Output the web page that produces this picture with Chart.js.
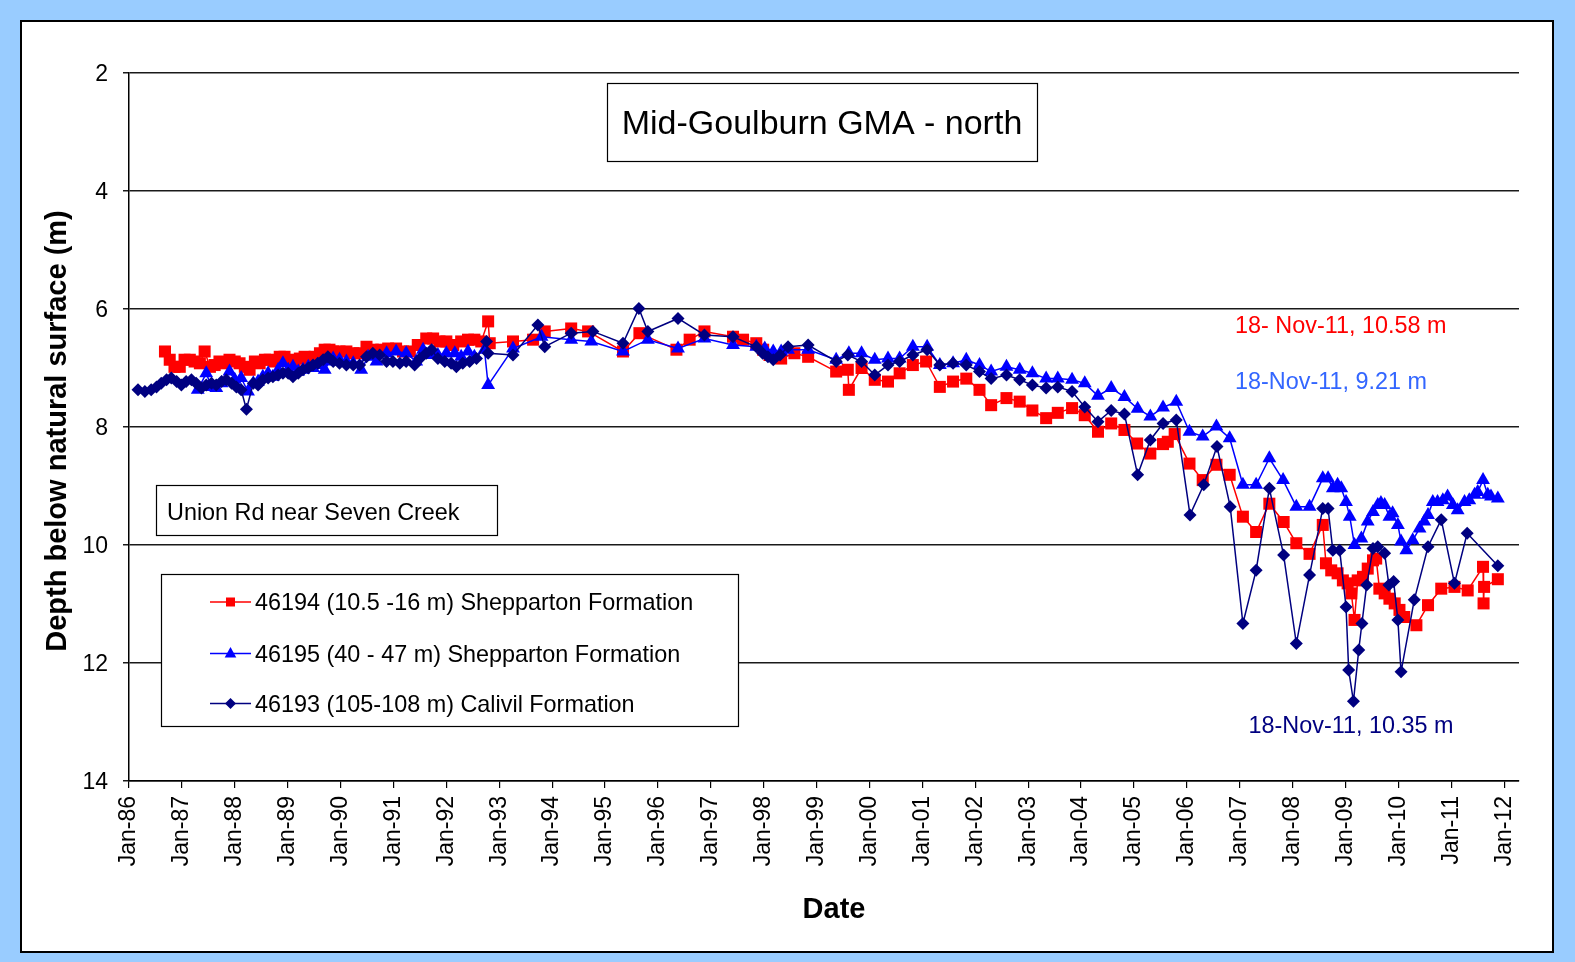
<!DOCTYPE html>
<html>
<head>
<meta charset="utf-8">
<title>Mid-Goulburn GMA - north</title>
<script src="https://cdn.jsdelivr.net/npm/chart.js@4.4.1/dist/chart.umd.min.js"></script>
<style>
    html, body { margin: 0; padding: 0; background: #99ccff; }
    #wrap { position: absolute; left: 0; top: 0; width: 1575px; height: 962px; }
</style>
</head>
<body>
<div id="wrap"><canvas id="hydroChart" width="1575" height="962"></canvas></div>
<script>
// dates are decimal years, depths are metres below natural surface
const bore46194Dates = [
    1986.68, 1986.77, 1986.86, 1986.96, 1987.05, 1987.15, 1987.24, 1987.34, 1987.43, 1987.53, 1987.62, 1987.71,
    1987.81, 1987.90, 1988.00, 1988.09, 1988.19, 1988.28, 1988.38, 1988.47, 1988.57, 1988.66, 1988.75, 1988.85,
    1988.94, 1989.04, 1989.13, 1989.23, 1989.32, 1989.42, 1989.51, 1989.61, 1989.70, 1989.79,
    1989.86, 1989.98, 1990.11, 1990.24, 1990.36, 1990.49, 1990.61, 1990.77, 1990.90, 1991.05, 1991.18, 1991.31,
    1991.46, 1991.62, 1991.75, 1991.87, 1992.00, 1992.13, 1992.28, 1992.41, 1992.53, 1992.66, 1992.79, 1992.82,
    1993.26, 1993.64, 1993.86, 1994.36, 1994.68, 1995.34, 1995.65, 1996.35, 1996.60, 1996.88, 1997.42, 1997.61,
    1997.86, 1997.99, 1998.11, 1998.33, 1998.58, 1998.84, 1999.37, 1999.59, 1999.61, 1999.85, 2000.10,
    2000.35, 2000.57, 2000.82, 2001.07, 2001.33, 2001.58, 2001.83, 2002.08, 2002.30, 2002.59, 2002.84, 2003.08,
    2003.34, 2003.56, 2003.83, 2004.07, 2004.32, 2004.57, 2004.82, 2005.06, 2005.31, 2005.55, 2005.64, 2005.77,
    2006.05, 2006.30, 2006.56, 2006.81, 2007.06, 2007.31, 2007.56, 2007.83, 2008.07, 2008.32, 2008.57, 2008.63,
    2008.73, 2008.85, 2008.95, 2009.04, 2009.11, 2009.17, 2009.23, 2009.33, 2009.42, 2009.52, 2009.58, 2009.64,
    2009.74, 2009.83, 2009.93, 2010.02, 2010.11, 2010.34, 2010.56, 2010.81, 2011.06, 2011.31, 2011.60, 2011.61,
    2011.62, 2011.88
];
const bore46194Depth = [
    6.72, 6.86, 6.98, 6.98, 6.86, 6.86, 6.89, 6.92, 6.72, 6.98, 6.95, 6.89,
    6.92, 6.86, 6.89, 6.92, 6.98, 7.03, 6.89, 6.92, 6.86, 6.86, 6.89, 6.81,
    6.81, 6.86, 6.92, 6.84, 6.81, 6.86, 6.81, 6.75, 6.69, 6.69,
    6.72, 6.72, 6.72, 6.75, 6.75, 6.64, 6.69, 6.69, 6.67, 6.67, 6.72, 6.72,
    6.61, 6.50, 6.50, 6.55, 6.55, 6.61, 6.55, 6.52, 6.52, 6.55, 6.21, 6.58,
    6.55, 6.52, 6.38, 6.33, 6.38, 6.72, 6.41, 6.69, 6.52, 6.38, 6.47, 6.52,
    6.58, 6.69, 6.78, 6.84, 6.75, 6.81, 7.06, 7.03, 7.37, 7.00, 7.20,
    7.23, 7.09, 6.95, 6.89, 7.32, 7.23, 7.18, 7.37, 7.63, 7.51, 7.57, 7.72,
    7.85, 7.76, 7.68, 7.80, 8.08, 7.94, 8.05, 8.28, 8.45, 8.29, 8.25, 8.12,
    8.62, 8.90, 8.64, 8.81, 9.52, 9.78, 9.30, 9.61, 9.97, 10.15, 9.66, 10.31,
    10.43, 10.48, 10.60, 10.65, 10.82, 11.27, 10.60, 10.54, 10.40, 10.26, 10.23, 10.74,
    10.82, 10.91, 10.99, 11.10, 11.22, 11.36, 11.02, 10.74, 10.71, 10.77, 10.37, 10.99,
    10.71, 10.58
];

const bore46195Dates = [
    1987.30, 1987.46, 1987.56, 1987.65, 1987.75, 1987.90, 1988.00, 1988.12, 1988.25, 1988.35, 1988.44, 1988.53,
    1988.63, 1988.72, 1988.82, 1988.91, 1989.01, 1989.10, 1989.20, 1989.29, 1989.39, 1989.48, 1989.57, 1989.70,
    1989.79,
    1989.86, 1989.98, 1990.11, 1990.24, 1990.39, 1990.52, 1990.68, 1990.87, 1991.05, 1991.24, 1991.43, 1991.56,
    1991.72, 1991.84, 1992.00, 1992.16, 1992.28, 1992.41, 1992.53, 1992.72, 1992.79,
    1993.26, 1993.80, 1994.36, 1994.74, 1995.34, 1995.81, 1996.38, 1996.88, 1997.42, 1997.86, 1998.02, 1998.18,
    1998.33, 1998.46, 1998.84, 1999.37, 1999.61, 1999.85, 2000.10,
    2000.35, 2000.57, 2000.82, 2001.09, 2001.33, 2001.58, 2001.83, 2002.08, 2002.30, 2002.59, 2002.84, 2003.08,
    2003.34, 2003.56, 2003.83, 2004.07, 2004.32, 2004.57, 2004.82, 2005.07, 2005.31, 2005.55, 2005.80,
    2006.05, 2006.30, 2006.56, 2006.81, 2007.06, 2007.31, 2007.56, 2007.82, 2008.07, 2008.32, 2008.57, 2008.67,
    2008.76, 2008.85, 2008.92, 2009.01, 2009.08, 2009.17, 2009.30, 2009.42, 2009.52, 2009.61, 2009.67, 2009.74,
    2009.83, 2009.89, 2009.99, 2010.05, 2010.15, 2010.27, 2010.40, 2010.49, 2010.56, 2010.65, 2010.74, 2010.84,
    2010.93, 2011.03, 2011.12, 2011.25, 2011.34, 2011.44, 2011.50, 2011.60, 2011.69, 2011.75, 2011.88
];
const bore46195Depth = [
    7.37, 7.09, 7.32, 7.34, 7.26, 7.06, 7.20, 7.17, 7.40, 7.26, 7.23, 7.15,
    7.09, 7.15, 7.03, 6.92, 7.03, 6.98, 7.06, 7.03, 6.98, 7.00, 6.95, 7.03,
    6.89,
    6.84, 6.86, 6.89, 6.92, 7.03, 6.81, 6.89, 6.75, 6.72, 6.75, 6.89, 6.69,
    6.78, 6.78, 6.75, 6.75, 6.81, 6.72, 6.81, 6.69, 7.29,
    6.67, 6.47, 6.52, 6.55, 6.72, 6.52, 6.67, 6.50, 6.61, 6.64, 6.67, 6.72,
    6.72, 6.69, 6.69, 6.86, 6.75, 6.75, 6.86,
    6.84, 6.84, 6.64, 6.64, 6.95, 6.92, 6.86, 6.95, 7.06, 6.98, 7.03, 7.09,
    7.18, 7.18, 7.20, 7.26, 7.47, 7.34, 7.49, 7.69, 7.82, 7.67, 7.57,
    8.08, 8.16, 7.99, 8.19, 8.98, 8.98, 8.53, 8.90, 9.35, 9.35, 8.87, 8.87,
    9.04, 8.98, 9.04, 9.27, 9.52, 10.00, 9.89, 9.60, 9.44, 9.32, 9.29, 9.32,
    9.52, 9.46, 9.66, 9.94, 10.09, 9.92, 9.72, 9.60, 9.49, 9.27, 9.27, 9.24,
    9.18, 9.32, 9.41, 9.27, 9.24, 9.15, 9.10, 8.90, 9.15, 9.18, 9.21
];

const bore46193Dates = [
    1986.17, 1986.30, 1986.42, 1986.52, 1986.61, 1986.71, 1986.80, 1986.90, 1986.99,
    1987.08, 1987.18, 1987.27, 1987.37, 1987.46, 1987.56, 1987.65, 1987.75, 1987.84, 1987.94,
    1988.03, 1988.12, 1988.22, 1988.35, 1988.44, 1988.53, 1988.63, 1988.72, 1988.82, 1988.91,
    1989.01, 1989.10, 1989.20, 1989.29, 1989.39, 1989.48, 1989.57, 1989.67, 1989.76,
    1989.86, 1989.98, 1990.11, 1990.24, 1990.36, 1990.49, 1990.61, 1990.74, 1990.87, 1990.99, 1991.12, 1991.24,
    1991.40, 1991.50, 1991.62, 1991.72, 1991.84, 1991.97, 1992.09, 1992.19, 1992.31, 1992.44, 1992.57, 1992.76,
    1992.79,
    1993.26, 1993.73, 1993.86, 1994.36, 1994.77, 1995.34, 1995.64, 1995.81, 1996.38, 1996.88, 1997.42, 1997.86,
    1997.98, 1998.08, 1998.18, 1998.31, 1998.46, 1998.84, 1999.37, 1999.59, 1999.85, 2000.10,
    2000.35, 2000.57, 2000.82, 2001.09, 2001.33, 2001.58, 2001.83, 2002.08, 2002.30, 2002.59, 2002.84, 2003.08,
    2003.34, 2003.56, 2003.83, 2004.07, 2004.32, 2004.57, 2004.82, 2005.07, 2005.31, 2005.55, 2005.80,
    2006.06, 2006.32, 2006.57, 2006.82, 2007.06, 2007.31, 2007.56, 2007.83, 2008.07, 2008.32, 2008.57, 2008.67,
    2008.76, 2008.89, 2009.01, 2009.06, 2009.15, 2009.25, 2009.31, 2009.40, 2009.52, 2009.61, 2009.74, 2009.82,
    2009.91, 2009.99, 2010.05, 2010.30, 2010.56, 2010.81, 2011.06, 2011.30, 2011.88
];
const bore46193Depth = [
    7.37, 7.40, 7.37, 7.32, 7.26, 7.20, 7.17, 7.23, 7.29,
    7.23, 7.20, 7.26, 7.34, 7.29, 7.26, 7.29, 7.23, 7.20, 7.26,
    7.32, 7.37, 7.70, 7.26, 7.29, 7.20, 7.17, 7.15, 7.12, 7.09,
    7.09, 7.15, 7.09, 7.03, 7.00, 6.95, 6.92, 6.86, 6.81,
    6.89, 6.92, 6.95, 6.95, 6.95, 6.81, 6.75, 6.78, 6.89, 6.89, 6.92, 6.89,
    6.95, 6.84, 6.75, 6.69, 6.84, 6.89, 6.92, 6.98, 6.92, 6.89, 6.84, 6.55,
    6.75,
    6.78, 6.27, 6.64, 6.41, 6.38, 6.58, 5.99, 6.38, 6.16, 6.44, 6.47, 6.64,
    6.75, 6.81, 6.86, 6.78, 6.64, 6.61, 6.89, 6.78, 6.89, 7.12,
    6.95, 6.89, 6.78, 6.69, 6.95, 6.92, 6.95, 7.06, 7.18, 7.12, 7.20, 7.29,
    7.34, 7.32, 7.40, 7.66, 7.91, 7.72, 7.78, 8.81, 8.22, 7.94, 7.88,
    9.49, 8.98, 8.33, 9.35, 11.33, 10.43, 9.04, 10.17, 11.67, 10.51, 9.38, 9.38,
    10.09, 10.09, 11.05, 12.12, 12.65, 11.78, 11.33, 10.68, 10.06, 10.03, 10.14, 10.68,
    10.62, 11.27, 12.15, 10.93, 10.03, 9.57, 10.65, 9.80, 10.35
];

const seriesNames = [
    '46194 (10.5 -16 m) Shepparton Formation',
    '46195 (40 - 47 m) Shepparton Formation',
    '46193 (105-108 m) Calivil Formation'
];
const seriesColors = ['#ff0000', '#0000ff', '#000080'];

const xTickYears = [1986, 1987, 1988, 1989, 1990, 1991, 1992, 1993, 1994, 1995, 1996, 1997, 1998,
    1999, 2000, 2001, 2002, 2003, 2004, 2005, 2006, 2007, 2008, 2009, 2010, 2011, 2012];
const xTickLabels = ['Jan-86', 'Jan-87', 'Jan-88', 'Jan-89', 'Jan-90', 'Jan-91', 'Jan-92', 'Jan-93', 'Jan-94',
    'Jan-95', 'Jan-96', 'Jan-97', 'Jan-98', 'Jan-99', 'Jan-00', 'Jan-01', 'Jan-02', 'Jan-03', 'Jan-04',
    'Jan-05', 'Jan-06', 'Jan-07', 'Jan-08', 'Jan-09', 'Jan-10', 'Jan-11', 'Jan-12'];

const FONT = '"Liberation Sans", Arial, sans-serif';
Chart.defaults.font.family = FONT;
Chart.defaults.color = '#000';

const toPoints = (dates, depths) => dates.map((d, i) => ({ x: d, y: depths[i] }));

function marker(ctx, style, x, y, color) {
    ctx.fillStyle = color;
    ctx.beginPath();
    if (style === 'rect') {
        ctx.rect(x - 4.5, y - 4.5, 9, 9);
    } else if (style === 'triangle') {
        ctx.moveTo(x, y - 6.5);
        ctx.lineTo(x + 5.8, y + 4);
        ctx.lineTo(x - 5.8, y + 4);
        ctx.closePath();
    } else {
        ctx.moveTo(x, y - 5.5);
        ctx.lineTo(x + 5.5, y);
        ctx.lineTo(x, y + 5.5);
        ctx.lineTo(x - 5.5, y);
        ctx.closePath();
    }
    ctx.fill();
}

// frame, axis titles, text boxes, legend and the end-of-record notes
const overlayPlugin = {
    id: 'overlay',
    beforeDraw(chart) {
        const ctx = chart.ctx;
        ctx.save();
        ctx.fillStyle = '#99ccff';
        ctx.fillRect(0, 0, chart.width, chart.height);
        ctx.fillStyle = '#ffffff';
        ctx.fillRect(21, 21, 1532, 931);
        ctx.lineWidth = 2;
        ctx.strokeStyle = '#000';
        ctx.strokeRect(21, 21, 1532, 931);
        ctx.restore();
    },
    afterDraw(chart) {
        const ctx = chart.ctx;
        ctx.save();
        ctx.textBaseline = 'middle';

        // axis titles
        ctx.fillStyle = '#000';
        ctx.font = 'bold 29px ' + FONT;
        ctx.textAlign = 'center';
        ctx.fillText('Date', 834, 910);
        ctx.save();
        ctx.translate(57.5, 431);
        ctx.rotate(-Math.PI / 2);
        ctx.fillText('Depth below natural surface (m)', 0, 0);
        ctx.restore();

        ctx.lineWidth = 1.2;
        ctx.strokeStyle = '#000';

        // title box
        ctx.fillStyle = '#fff';
        ctx.fillRect(607, 83, 430, 78);
        ctx.strokeRect(607.5, 83.5, 430, 78);
        ctx.fillStyle = '#000';
        ctx.font = '34px ' + FONT;
        ctx.fillText('Mid-Goulburn GMA - north', 822, 125);

        // site box
        ctx.fillStyle = '#fff';
        ctx.fillRect(156, 485, 341, 50);
        ctx.strokeRect(156.5, 485.5, 341, 50);
        ctx.fillStyle = '#000';
        ctx.font = '23.4px ' + FONT;
        ctx.textAlign = 'left';
        ctx.fillText('Union Rd near Seven Creek', 167, 513.5);

        // legend
        ctx.fillStyle = '#fff';
        ctx.fillRect(161, 574, 577, 152);
        ctx.strokeRect(161.5, 574.5, 577, 152);
        const styles = ['rect', 'triangle', 'rectRot'];
        const rows = [604, 655.5, 705.5];
        seriesNames.forEach((name, i) => {
            const ly = rows[i] - 2;
            ctx.strokeStyle = seriesColors[i];
            ctx.lineWidth = 1.5;
            ctx.beginPath();
            ctx.moveTo(210, ly);
            ctx.lineTo(251, ly);
            ctx.stroke();
            marker(ctx, styles[i], 230.5, ly, seriesColors[i]);
            ctx.fillStyle = '#000';
            ctx.fillText(name, 255, rows[i]);
        });

        // last readings
        ctx.fillStyle = '#ff0000';
        ctx.fillText('18- Nov-11, 10.58 m', 1235, 327);
        ctx.fillStyle = '#3366ff';
        ctx.fillText('18-Nov-11, 9.21 m', 1235, 383);
        ctx.fillStyle = '#000080';
        ctx.fillText('18-Nov-11, 10.35 m', 1248.5, 727);
        ctx.restore();
    }
};

const ctx = document.getElementById('hydroChart').getContext('2d');
const hydroChart = new Chart(ctx, {
    type: 'line',
    data: {
        datasets: [
            {
                label: seriesNames[0],
                data: toPoints(bore46194Dates, bore46194Depth),
                borderColor: seriesColors[0],
                backgroundColor: seriesColors[0],
                borderWidth: 1.5,
                pointStyle: 'rect',
                pointRadius: 8.5,
                pointBorderWidth: 0,
                pointBackgroundColor: seriesColors[0],
                order: 3
            },
            {
                label: seriesNames[1],
                data: toPoints(bore46195Dates, bore46195Depth),
                borderColor: seriesColors[1],
                backgroundColor: seriesColors[1],
                borderWidth: 1.5,
                pointStyle: 'triangle',
                pointRadius: 8,
                pointBorderWidth: 0,
                pointBackgroundColor: seriesColors[1],
                order: 2
            },
            {
                label: seriesNames[2],
                data: toPoints(bore46193Dates, bore46193Depth),
                borderColor: seriesColors[2],
                backgroundColor: seriesColors[2],
                borderWidth: 1.5,
                pointStyle: 'rectRot',
                pointRadius: 6.5,
                pointBorderWidth: 0,
                pointBackgroundColor: seriesColors[2],
                order: 1
            }
        ]
    },
    options: {
        responsive: false,
        devicePixelRatio: 1,
        animation: false,
        layout: {
            padding: { top: 73, right: 56, bottom: 0, left: 0 }
        },
        elements: {
            line: { tension: 0 }
        },
        scales: {
            x: {
                type: 'linear',
                position: 'bottom',
                min: 1986,
                max: 2012.28,
                afterBuildTicks: (axis) => {
                    axis.ticks = xTickYears.map(v => ({ value: v }));
                },
                afterFit: (axis) => { axis.height = 181; },
                ticks: {
                    autoSkip: false,
                    maxRotation: 90,
                    minRotation: 90,
                    padding: 8,
                    font: { size: 23 },
                    callback: (value) => xTickLabels[xTickYears.indexOf(value)]
                },
                grid: {
                    drawOnChartArea: false,
                    drawTicks: true,
                    tickLength: 7,
                    color: '#000',
                    lineWidth: 1.2
                },
                border: { display: true, color: '#000', width: 1.5 },
                title: { display: false }
            },
            y: {
                min: 2,
                max: 14,
                reverse: true,
                afterFit: (axis) => { axis.width = 129; },
                ticks: {
                    stepSize: 2,
                    padding: 15,
                    labelOffset: 2,
                    font: { size: 23 }
                },
                grid: {
                    color: '#1a1a1a',
                    lineWidth: 1.5,
                    tickLength: 6
                },
                border: { display: true, color: '#000', width: 1.5 },
                title: { display: false }
            }
        },
        plugins: {
            legend: { display: false },
            tooltip: { enabled: true }
        }
    },
    plugins: [overlayPlugin]
});
</script>
</body>
</html>
